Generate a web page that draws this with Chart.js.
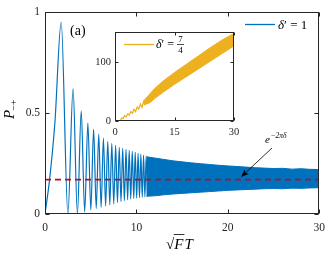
<!DOCTYPE html>
<html><head><meta charset="utf-8">
<script src="https://cdn.jsdelivr.net/npm/chart.js@4.4.1/dist/chart.umd.min.js"></script>
<style>
html,body{margin:0;padding:0;background:#fff;}
#wrap{position:relative;width:332px;height:257px;overflow:hidden;}
#main{position:absolute;left:0;top:0;}
#inset{position:absolute;left:85px;top:22px;}
</style></head><body>
<div id="wrap"><canvas id="main" width="332" height="257"></canvas><canvas id="inset" width="160" height="120"></canvas></div>
<script>
// ---- main panel data (delta' = 1) ----
const tMain = [0, 0.5, 1.08, 1.772, 2.507, 3.070, 3.545, 3.963, 4.342, 4.690, 5.013, 5.317, 5.605, 5.879, 6.140, 6.391, 6.632, 6.865, 7.090, 7.308, 7.520, 7.726, 7.927, 8.123, 8.314, 8.500, 8.683, 8.862, 9.038, 9.210, 9.379,
               9.545, 9.708, 9.869, 10.027, 10.182, 10.335, 10.486, 10.635, 10.781, 10.926, 11.069, 11.210];
const pMain = [0, 0.17, 0.45, 0.95, 0.0, 0.62, 0.0, 0.51, 0.01, 0.45, 0.02, 0.42, 0.027, 0.395, 0.033, 0.375, 0.04, 0.36, 0.045, 0.35, 0.05, 0.34, 0.057, 0.33, 0.062, 0.325, 0.066, 0.32, 0.07, 0.315, 0.074,
               0.31, 0.077, 0.305, 0.079, 0.30, 0.081, 0.295, 0.083, 0.29, 0.085, 0.287, 0.087];
// dense oscillation region: envelope of the band
const tBand  = [11.1, 12, 13, 14, 15, 16, 17, 18, 19, 20, 21, 22, 23, 24, 25, 26, 27, 28, 29, 30];
const bandHi = [0.283, 0.277, 0.27, 0.263, 0.258, 0.253, 0.249, 0.245, 0.241, 0.238, 0.235, 0.232, 0.229, 0.227, 0.225, 0.226, 0.222, 0.224, 0.221, 0.22];
const bandLo = [0.088, 0.09, 0.095, 0.099, 0.102, 0.105, 0.108, 0.111, 0.114, 0.117, 0.119, 0.121, 0.123, 0.125, 0.126, 0.125, 0.128, 0.127, 0.129, 0.13];
// asymptote e^{-2 pi delta}
const refT = [0, 30];
const refP = [0.17, 0.17];
const xTicksMain = [0, 10, 20, 30];
const yTicksMain = [0, 0.5, 1];
const yLabelsMain = ['0', '0.5', '1'];

// ---- inset data (delta' = 7/4) ----
const tInZig = [0, 1.3, 1.7, 2.0, 2.4, 2.8, 3.2, 3.6, 4.0, 4.4, 4.8, 5.2, 5.6, 6.0, 6.4, 6.8, 7.2, 7.6];
const vInZig = [0, 0, 5, 4, 9, 7, 12, 10, 16, 13, 20, 16, 24, 20, 29, 23, 33, 27];
const tInBand  = [7.2, 8.8, 10, 12, 15, 18, 21, 24, 27, 30];
const inBandHi = [34, 46, 55, 67, 82, 96, 110, 124, 137, 148];
const inBandLo = [27, 31, 38, 48, 62, 75, 88, 101, 114, 127];
const xTicksIn = [0, 15, 30];
const yTicksIn = [0, 100];

const SERIF = '"Liberation Serif", "Times New Roman", serif';
const AX = '#262626';
const BLUE = '#0072BD', YEL = '#EDB120', RED = '#A2142F';
const pts = (xs, ys) => xs.map((x, i) => ({x: x, y: ys[i]}));

function boxAndTicks(chart, len) {
  const c = chart.ctx, a = chart.chartArea;
  const L = Math.round(a.left) + 0.5, R = Math.round(a.right) - 0.5;
  const T = Math.round(a.top) + 0.5, B = Math.round(a.bottom) - 0.5;
  c.save();
  c.strokeStyle = AX; c.lineWidth = 1;
  c.strokeRect(L, T, R - L, B - T);
  c.beginPath();
  chart.scales.x.ticks.forEach(t => {
    const px = Math.round(chart.scales.x.getPixelForValue(t.value)) + 0.5;
    c.moveTo(px, B); c.lineTo(px, B - len);
    c.moveTo(px, T); c.lineTo(px, T + len);
  });
  chart.scales.y.ticks.forEach(t => {
    const py = Math.round(chart.scales.y.getPixelForValue(t.value)) + 0.5;
    c.moveTo(L, py); c.lineTo(L + len, py);
    c.moveTo(R, py); c.lineTo(R - len, py);
  });
  c.stroke();
  c.restore();
}

const mainPlugin = {
  id: 'mainDeco',
  afterDraw(chart) {
    boxAndTicks(chart, 4);
    const c = chart.ctx;
    c.save();
    c.fillStyle = '#000';
    c.textBaseline = 'alphabetic';
    // (a)
    c.font = '14px ' + SERIF;
    c.fillText('(a)', 70, 35);
    // legend delta' = 1
    c.strokeStyle = BLUE; c.lineWidth = 1.3;
    c.beginPath(); c.moveTo(245, 24.5); c.lineTo(275, 24.5); c.stroke();
    c.font = 'italic 13px ' + SERIF;
    c.fillText('δ', 278, 29);
    let w = c.measureText('δ').width;
    c.font = '13px ' + SERIF;
    c.fillText('′ = 1', 278 + w, 29);
    // y-axis label P_{-+}
    c.save();
    c.translate(14, 119);
    c.rotate(-Math.PI / 2);
    c.font = 'italic 15px ' + SERIF;
    c.fillText('P', 0, 0);
    const wp = c.measureText('P').width;
    c.font = '10px ' + SERIF;
    c.fillText('−+', wp - 1, 3);
    c.restore();
    // x-axis label sqrt(F) T
    c.font = '15px ' + SERIF;
    c.fillText('√', 166, 249);
    const ws = c.measureText('√').width;
    c.font = 'italic 15px ' + SERIF;
    c.fillText('F', 166 + ws, 249);
    const wf = c.measureText('F').width;
    c.fillText('T', 166 + ws + wf + 1, 249);
    c.strokeStyle = '#000'; c.lineWidth = 0.8;
    c.beginPath(); c.moveTo(166 + ws - 0.5, 234.5); c.lineTo(166 + ws + wf + 1, 234.5); c.stroke();
    // annotation e^{-2 pi delta}
    c.font = 'italic 11px ' + SERIF;
    c.fillText('e', 265, 143);
    c.font = 'italic 7.5px ' + SERIF;
    c.fillText('−2πδ', 270.5, 138);
    // arrow
    const x0 = 272, y0 = 148, x1 = 241, y1 = 177;
    const ang = Math.atan2(y1 - y0, x1 - x0);
    c.strokeStyle = '#000'; c.lineWidth = 0.8;
    c.beginPath(); c.moveTo(x0, y0); c.lineTo(x1 - 5 * Math.cos(ang), y1 - 5 * Math.sin(ang)); c.stroke();
    c.beginPath();
    c.moveTo(x1, y1);
    c.lineTo(x1 - 8 * Math.cos(ang) + 3 * Math.sin(ang), y1 - 8 * Math.sin(ang) - 3 * Math.cos(ang));
    c.lineTo(x1 - 6 * Math.cos(ang), y1 - 6 * Math.sin(ang));
    c.lineTo(x1 - 8 * Math.cos(ang) - 3 * Math.sin(ang), y1 - 8 * Math.sin(ang) + 3 * Math.cos(ang));
    c.closePath(); c.fill();
    c.restore();
  }
};

const insetPlugin = {
  id: 'insetDeco',
  beforeDatasetsDraw(chart) {
    const c = chart.ctx, a = chart.chartArea;
    c.save(); c.fillStyle = '#fff';
    c.fillRect(a.left, a.top, a.right - a.left, a.bottom - a.top);
    c.restore();
  },
  afterDraw(chart) {
    boxAndTicks(chart, 3);
    const c = chart.ctx;
    c.save();
    c.fillStyle = '#000';
    c.strokeStyle = YEL; c.lineWidth = 1.3;
    c.beginPath(); c.moveTo(39, 22.5); c.lineTo(69, 22.5); c.stroke();
    c.font = 'italic 12px ' + SERIF;
    c.fillText('δ', 71, 26);
    const w = c.measureText('δ').width;
    c.font = '12px ' + SERIF;
    c.fillText('′ =', 71 + w, 26);
    const w2 = c.measureText('′ = ').width;
    const fx = 71 + w + w2;
    c.font = '9px ' + SERIF;
    c.textAlign = 'center';
    c.fillText('7', fx + 3.5, 19.5);
    c.fillText('4', fx + 3.5, 30.5);
    c.strokeStyle = '#000'; c.lineWidth = 0.7;
    c.beginPath(); c.moveTo(fx, 22.5); c.lineTo(fx + 7, 22.5); c.stroke();
    c.restore();
  }
};

const tickFont = (s) => ({family: SERIF, size: s});

new Chart(document.getElementById('main'), {
  type: 'line',
  data: {
    datasets: [
      {data: pts(refT, refP), borderColor: RED, borderWidth: 1.6, borderDash: [6, 4], pointRadius: 0, fill: false, order: 0},
      {data: pts(tMain, pMain), borderColor: BLUE, borderWidth: 1.2, pointRadius: 0, cubicInterpolationMode: 'monotone', fill: false, order: 1},
      {data: pts(tBand, bandHi), borderColor: BLUE, backgroundColor: BLUE, borderWidth: 1, pointRadius: 0, fill: '+1', order: 2},
      {data: pts(tBand, bandLo), borderColor: BLUE, borderWidth: 1, pointRadius: 0, fill: false, order: 3}
    ]
  },
  options: {
    responsive: false, animation: false, devicePixelRatio: 1,
    layout: {padding: {left: 0, right: 10, top: 6, bottom: 0}},
    plugins: {legend: {display: false}, tooltip: {enabled: false}},
    scales: {
      x: {type: 'linear', min: 0, max: 30,
          afterBuildTicks: s => { s.ticks = xTicksMain.map(v => ({value: v})); },
          afterFit: s => { s.height = 43; },
          grid: {display: false, drawTicks: false}, border: {display: false},
          ticks: {font: tickFont(11.5), color: AX, padding: 7, maxRotation: 0, callback: v => String(v)}},
      y: {type: 'linear', min: 0, max: 1,
          afterBuildTicks: s => { s.ticks = yTicksMain.map(v => ({value: v})); },
          afterFit: s => { s.width = 45; },
          grid: {display: false, drawTicks: false}, border: {display: false},
          ticks: {font: tickFont(11.5), color: AX, padding: 5,
                  callback: v => yLabelsMain[yTicksMain.indexOf(v)] ?? String(v)}}
    }
  },
  plugins: [mainPlugin]
});

new Chart(document.getElementById('inset'), {
  type: 'line',
  data: {
    datasets: [
      {data: pts(tInZig, vInZig), borderColor: YEL, borderWidth: 1.2, pointRadius: 0, fill: false, order: 0},
      {data: pts(tInBand, inBandHi), borderColor: YEL, backgroundColor: YEL, borderWidth: 1, pointRadius: 0, fill: '+1', order: 1},
      {data: pts(tInBand, inBandLo), borderColor: YEL, borderWidth: 1, pointRadius: 0, fill: false, order: 2}
    ]
  },
  options: {
    responsive: false, animation: false, devicePixelRatio: 1,
    layout: {padding: {left: 0, right: 11, top: 10, bottom: 0}},
    plugins: {legend: {display: false}, tooltip: {enabled: false}},
    scales: {
      x: {type: 'linear', min: 0, max: 30,
          afterBuildTicks: s => { s.ticks = xTicksIn.map(v => ({value: v})); },
          afterFit: s => { s.height = 21; },
          grid: {display: false, drawTicks: false}, border: {display: false},
          ticks: {font: tickFont(10.5), color: AX, padding: 5, maxRotation: 0, callback: v => String(v)}},
      y: {type: 'linear', min: 0, max: 150,
          afterBuildTicks: s => { s.ticks = yTicksIn.map(v => ({value: v})); },
          afterFit: s => { s.width = 30; },
          grid: {display: false, drawTicks: false}, border: {display: false},
          ticks: {font: tickFont(10.5), color: AX, padding: 4, callback: v => String(v)}}
    }
  },
  plugins: [insetPlugin]
});
</script>
</body></html>
